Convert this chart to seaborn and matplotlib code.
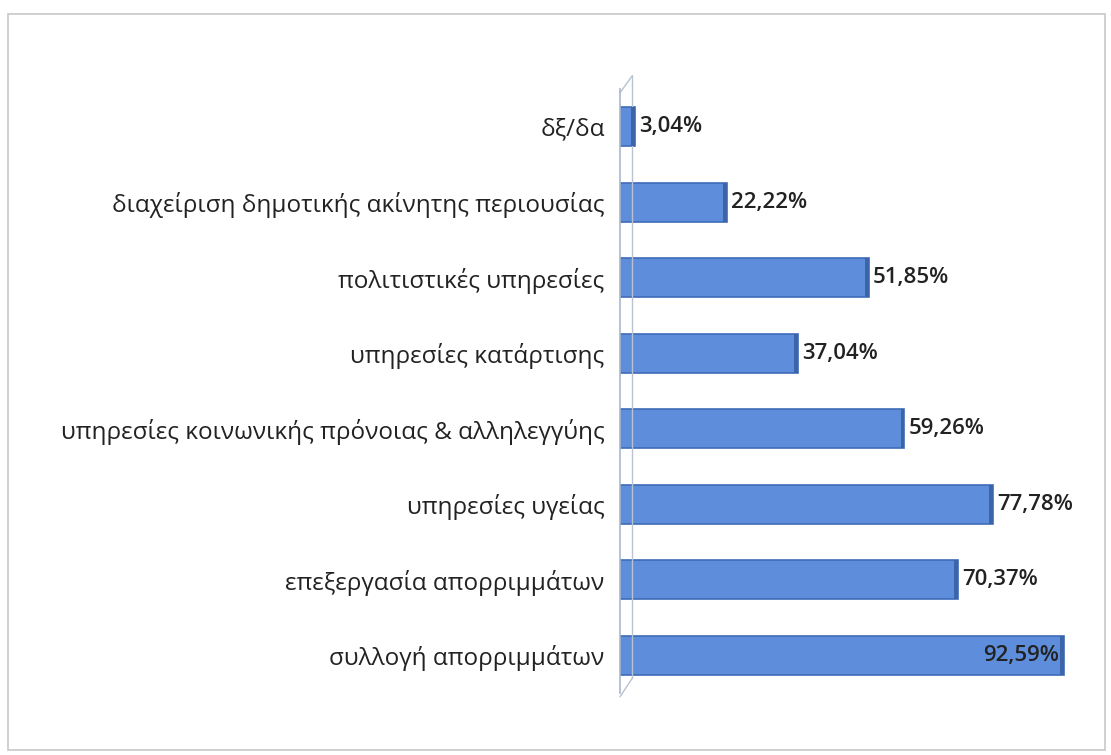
import matplotlib
matplotlib.use("Agg")
import matplotlib.pyplot as plt
import seaborn as sns
import pandas as pd
from matplotlib.patches import Rectangle

# ── data (top to bottom, as in the reference) ──
categories = [
    "δξ/δα",
    "διαχείριση δημοτικής ακίνητης περιουσίας",
    "πολιτιστικές υπηρεσίες",
    "υπηρεσίες κατάρτισης",
    "υπηρεσίες κοινωνικής πρόνοιας & αλληλεγγύης",
    "υπηρεσίες υγείας",
    "επεξεργασία απορριμμάτων",
    "συλλογή απορριμμάτων",
]
values = [3.04, 22.22, 51.85, 37.04, 59.26, 77.78, 70.37, 92.59]

df = pd.DataFrame({"category": categories, "value": values})

sns.set_style("white")
plt.rcParams["font.family"] = ["Open Sans", "DejaVu Sans"]

fig = plt.figure(figsize=(11.11, 7.55), dpi=100)
ax = fig.add_axes([0.558, 0.082, 0.432, 0.80])

sns.barplot(
    data=df, x="value", y="category", orient="h",
    color="#5E8EDB", edgecolor="#3F6CB8", linewidth=1.2,
    width=0.52, saturation=1, ax=ax,
)

# darker right cap for a slight 3D look
for patch in ax.patches:
    x0, y0 = patch.get_x(), patch.get_y()
    w, h = patch.get_width(), patch.get_height()
    ax.add_patch(Rectangle((x0 + w - 0.8, y0), 0.8, h,
                           facecolor="#3C64A8", edgecolor="none", zorder=3))

# value labels, Greek decimal comma
for i, v in enumerate(values):
    txt = f"{v:.2f}%".replace(".", ",")
    if v > 90:
        ax.text(v - 1.2, i, txt, ha="right", va="center", fontsize=16,
                fontweight="semibold", color="#222222", zorder=4)
    else:
        ax.text(v + 0.9, i, txt, ha="left", va="center", fontsize=16,
                fontweight="semibold", color="#222222", zorder=4)

ax.set_xlim(0, 100)
ax.set_ylim(7.5, -0.5)
ax.set_xlabel("")
ax.set_ylabel("")
ax.set_xticks([])
ax.tick_params(axis="y", length=0, pad=11, labelsize=17.5, labelcolor="#222222")

for side in ["top", "right", "bottom"]:
    ax.spines[side].set_visible(False)
ax.spines["left"].set_color("#A9B8CF")
ax.spines["left"].set_linewidth(1.2)

# 3D wall hints at top and bottom of the axis
ax.plot([0, 2.6], [-0.45, -0.68], color="#B8C2D0", lw=1, clip_on=False)
ax.plot([2.6, 2.6], [-0.68, 7.3], color="#B8C2D0", lw=1, clip_on=False)
ax.plot([0, 2.6], [7.55, 7.3], color="#B8C2D0", lw=1, clip_on=False)

# outer chart frame
fig.patches.append(Rectangle((0.007, 0.007), 0.988, 0.975, transform=fig.transFigure,
                             fill=False, edgecolor="#C8C8C8", linewidth=1.2))

fig.savefig("out.png", dpi=100)
